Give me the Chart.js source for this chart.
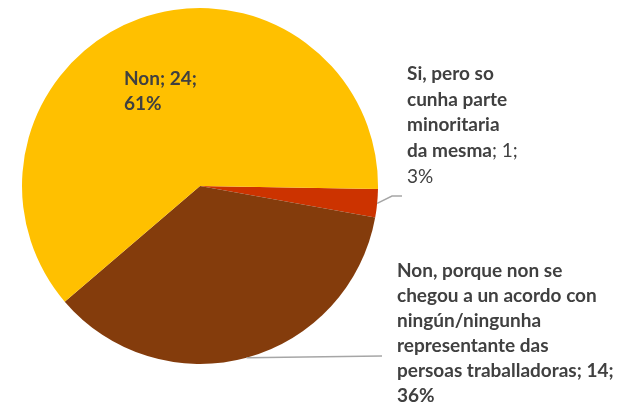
<!DOCTYPE html>
<html>
<head>
<meta charset="utf-8">
<script src="https://cdn.jsdelivr.net/npm/chart.js@4"></script>
<style>
html,body{margin:0;padding:0;background:#fff;}
canvas{display:block;}
</style>
</head>
<body>
<canvas id="c" width="630" height="404"></canvas>
<script>
// ---- data ----
const categories = [
  "Si, pero so cunha parte minoritaria da mesma",
  "Non, porque non se chegou a un acordo con ningún/ningunha representante das persoas traballadoras",
  "Non"
];
const values = [1, 14, 24];
const percents = ["3%", "36%", "61%"];
const colors = ["#CC3300", "#843C0C", "#FFC000"];

// label text lines: [text, bold]
const labelLines = [
  [[["Si, pero so", true]], [["cunha parte", true]], [["minoritaria", true]], [["da mesma", true], ["; 1;", false]], [["3%", false]]],
  [[["Non, porque non se", true]], [["chegou a un acordo con", true]], [["ningún/ningunha", true]], [["representante das", true]], [["persoas traballadoras; 14;", true]], [["36%", true]]],
  [[["Non; 24;", true]], [["61%", true]]]
];
// label layout (offset from pie centre, first baseline), leader targets
const labelLayout = [
  {dx: 207, dy: -106, lh: 25.7, leader: [[192, 10], [202, 10]]},
  {dx: 197, dy: 90.7, lh: 25.0, leader: [[182, 170]]},
  {dx: -76, dy: -101, lh: 25, leader: null}
];

const FONT = "Lato, 'Open Sans', sans-serif";
const FS = 19;

const labelPlugin = {
  id: 'pieLabels',
  afterDatasetsDraw(chart) {
    const ctx = chart.ctx;
    const meta = chart.getDatasetMeta(0);
    meta.data.forEach((arc, i) => {
      const p = arc.getProps(['x', 'y', 'startAngle', 'endAngle', 'outerRadius'], true);
      const L = labelLayout[i];
      ctx.save();
      if (L.leader) {
        const mid = (p.startAngle + p.endAngle) / 2;
        ctx.beginPath();
        ctx.moveTo(p.x + Math.cos(mid) * p.outerRadius, p.y + Math.sin(mid) * p.outerRadius);
        L.leader.forEach(pt => ctx.lineTo(p.x + pt[0], p.y + pt[1]));
        ctx.strokeStyle = "#A6A6A6";
        ctx.lineWidth = 1.5;
        ctx.stroke();
      }
      ctx.fillStyle = "#404040";
      ctx.textBaseline = "alphabetic";
      ctx.textAlign = "left";
      labelLines[i].forEach((line, k) => {
        let x = p.x + L.dx;
        const y = p.y + L.dy + k * L.lh;
        line.forEach(([t, b]) => {
          ctx.font = (b ? "bold " : "") + FS + "px " + FONT;
          ctx.fillText(t, x, y);
          x += ctx.measureText(t).width;
        });
      });
      ctx.restore();
    });
  }
};

new Chart(document.getElementById('c'), {
  type: 'pie',
  data: {
    labels: categories,
    datasets: [{
      data: values,
      backgroundColor: colors,
      borderWidth: 0
    }]
  },
  options: {
    responsive: false,
    animation: false,
    rotation: 91,
    layout: {padding: {left: 22, right: 252, top: 8, bottom: 40}},
    plugins: {legend: {display: false}, tooltip: {enabled: false}}
  },
  plugins: [labelPlugin]
});
</script>
</body>
</html>
